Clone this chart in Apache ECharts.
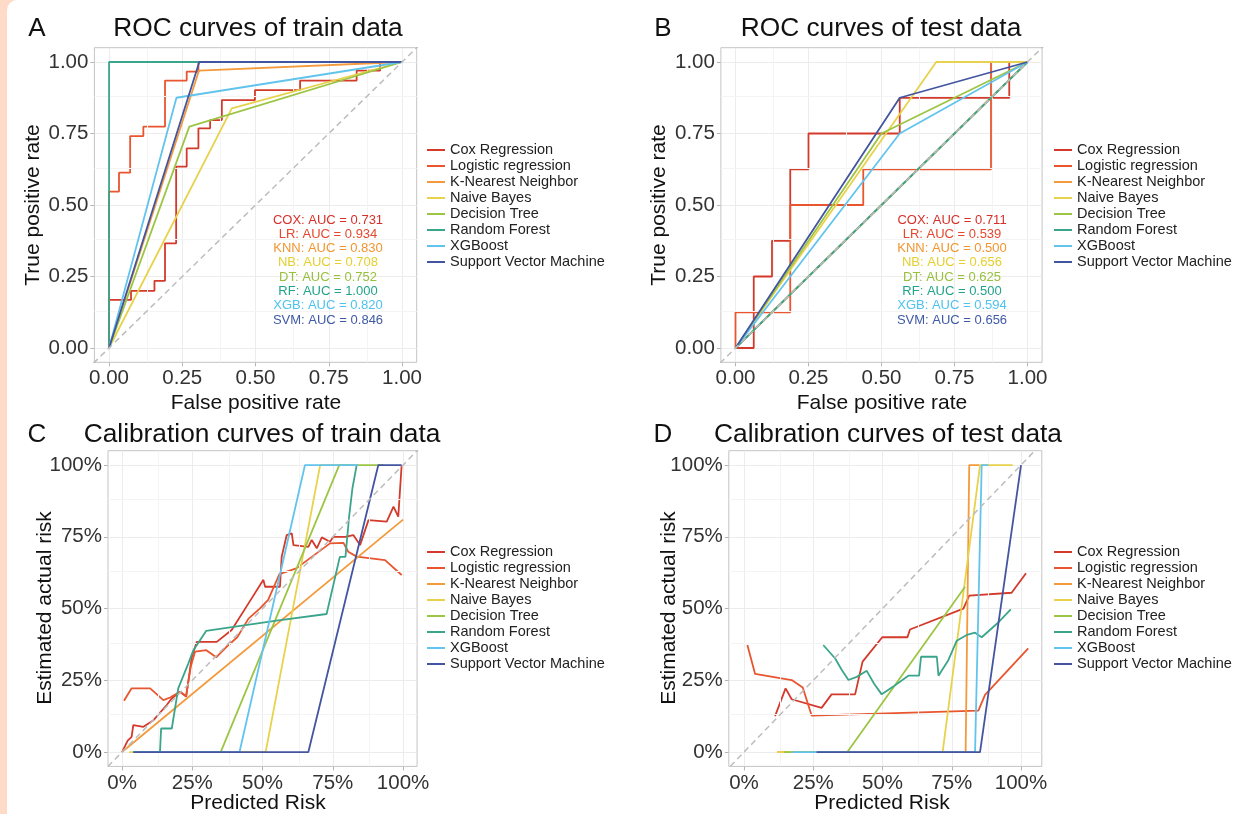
<!DOCTYPE html>
<html><head><meta charset="utf-8">
<script src="https://cdn.jsdelivr.net/npm/echarts@6/dist/echarts.min.js"></script>
<style>
html,body{margin:0;padding:0;background:#fff;}
#strip{position:absolute;left:0;top:0;width:20px;height:814px;background:#FDDBC8;}
#corner{position:absolute;left:7px;top:0;width:30px;height:814px;background:#fff;border-top-left-radius:10px;}
#main{position:absolute;left:0;top:0;width:1235px;height:814px;}
</style></head>
<body><div id="strip"></div><div id="corner"></div><div id="main"></div>
<script>
const FONT = '"Liberation Sans", Arial, Helvetica, sans-serif';
const modelNames = ['Cox Regression','Logistic regression','K-Nearest Neighbor','Naive Bayes','Decision Tree','Random Forest','XGBoost','Support Vector Machine'];
const modelColors = ['#D33A2B','#E8552E','#F29A3C','#E8D24C','#9DC544','#3AA58A','#62C4EC','#4355A0'];
const majorTicks = [0,0.25,0.5,0.75,1];
const rocTickLabels = ['0.00','0.25','0.50','0.75','1.00'];
const calTickLabels = ['0%','25%','50%','75%','100%'];
const minorTicks = [0.125,0.375,0.625,0.875];
const diagonal = [[-0.2,-0.2],[1.2,1.2]];

// Panel A: ROC train
const rocTrainCox = [[0,0],[0,0.168],[0.075,0.168],[0.075,0.2],[0.155,0.2],[0.155,0.235],[0.191,0.235],[0.191,0.366],[0.229,0.366],[0.229,0.634],[0.265,0.634],[0.265,0.698],[0.305,0.698],[0.305,0.768],[0.345,0.768],[0.345,0.797],[0.385,0.797],[0.385,0.867],[0.498,0.867],[0.498,0.902],[0.652,0.902],[0.652,0.935],[0.845,0.935],[0.845,0.97],[0.925,0.97],[0.925,1],[1,1]];
const rocTrainLr = [[0,0],[0,0.547],[0.034,0.547],[0.034,0.613],[0.072,0.613],[0.072,0.741],[0.117,0.741],[0.117,0.774],[0.191,0.774],[0.191,0.935],[0.265,0.935],[0.265,0.966],[0.305,0.966],[0.305,1],[1,1]];
const rocTrainKnn = [[0,0],[0.307,0.97],[1,1]];
const rocTrainNb = [[0,0],[0.419,0.838],[1,1]];
const rocTrainDt = [[0,0],[0.274,0.774],[1,1]];
const rocTrainRf = [[0,0],[0,1],[1,1]];
const rocTrainXgb = [[0,0],[0.23,0.875],[1,1]];
const rocTrainSvm = [[0,0],[0.308,1],[1,1]];

// Panel B: ROC test
const rocTestCox = [[0,0],[0.0625,0],[0.0625,0.25],[0.125,0.25],[0.125,0.375],[0.1875,0.375],[0.1875,0.625],[0.25,0.625],[0.25,0.75],[0.5625,0.75],[0.5625,0.875],[0.9375,0.875],[0.9375,1],[1,1]];
const rocTestLr = [[0,0],[0,0.125],[0.1875,0.125],[0.1875,0.5],[0.4375,0.5],[0.4375,0.625],[0.875,0.625],[0.875,1],[1,1]];
const rocTestKnn = [[0,0],[1,1]];
const rocTestNb = [[0,0],[0.6875,1],[1,1]];
const rocTestDt = [[0,0],[0.5,0.75],[1,1]];
const rocTestRf = [[0,0],[1,1]];
const rocTestXgb = [[0,0],[0.5625,0.75],[1,1]];
const rocTestSvm = [[0,0],[0.5625,0.875],[1,1]];

// Panel C: calibration train
const calTrainCox = [[0,0],[0.02,0.04],[0.034,0.053],[0.04,0.094],[0.076,0.088],[0.112,0.111],[0.159,0.164],[0.175,0.185],[0.206,0.21],[0.228,0.193],[0.248,0.33],[0.266,0.384],[0.337,0.384],[0.39,0.425],[0.45,0.518],[0.503,0.6],[0.509,0.576],[0.562,0.576],[0.568,0.68],[0.586,0.756],[0.604,0.762],[0.61,0.721],[0.663,0.715],[0.675,0.739],[0.693,0.71],[0.711,0.748],[0.74,0.733],[0.752,0.75],[0.794,0.75],[0.823,0.756],[0.847,0.721],[0.877,0.808],[0.942,0.803],[0.966,0.855],[0.983,0.82],[0.995,1.0]];
const calTrainLr = [[0.007,0.179],[0.034,0.222],[0.1,0.222],[0.147,0.181],[0.171,0.19],[0.206,0.21],[0.228,0.195],[0.245,0.3],[0.26,0.35],[0.3,0.355],[0.335,0.33],[0.37,0.365],[0.41,0.4],[0.45,0.465],[0.49,0.5],[0.52,0.53],[0.56,0.62],[0.62,0.64],[0.74,0.727],[0.788,0.729],[0.805,0.698],[0.835,0.681],[0.936,0.669],[0.995,0.617]];
const calTrainKnn = [[0,0],[1,0.81]];
const calTrainNb = [[0.026,0],[0.511,0],[0.705,1],[0.8,1]];
const calTrainDt = [[0.04,0],[0.351,0],[0.773,1],[0.93,1]];
const calTrainRf = [[0.04,0],[0.135,0],[0.139,0.082],[0.177,0.082],[0.2,0.222],[0.236,0.309],[0.254,0.355],[0.299,0.422],[0.55,0.458],[0.728,0.481],[0.775,0.68],[0.795,0.68],[0.808,0.82],[0.82,0.92],[0.835,1]];
const calTrainXgb = [[0.04,0],[0.418,0],[0.651,1],[0.841,1]];
const calTrainSvm = [[0.04,0],[0.663,0],[0.912,1],[0.995,1]];

// Panel D: calibration test
const calTestCox = [[0.112,0.125],[0.15,0.222],[0.172,0.184],[0.28,0.154],[0.316,0.201],[0.401,0.201],[0.428,0.315],[0.499,0.4],[0.59,0.4],[0.599,0.427],[0.792,0.5],[0.813,0.545],[0.966,0.555],[1.018,0.623]];
const calTestLr = [[0.012,0.373],[0.04,0.272],[0.172,0.251],[0.212,0.225],[0.244,0.127],[0.846,0.144],[0.87,0.199],[1.026,0.361]];
const calTestKnn = [[0.12,0],[0.8,0],[0.813,1],[0.85,1]];
const calTestNb = [[0.12,0],[0.717,0],[0.852,1],[0.97,1]];
const calTestDt = [[0.145,0],[0.373,0],[0.798,0.576]];
const calTestRf = [[0.286,0.373],[0.329,0.326],[0.353,0.286],[0.377,0.251],[0.407,0.262],[0.443,0.283],[0.469,0.239],[0.497,0.201],[0.539,0.228],[0.593,0.266],[0.632,0.266],[0.639,0.332],[0.696,0.332],[0.702,0.266],[0.738,0.321],[0.768,0.388],[0.804,0.408],[0.834,0.416],[0.858,0.4],[0.912,0.446],[0.963,0.497]];
const calTestXgb = [[0.172,0],[0.834,0],[0.858,1],[0.882,1]];
const calTestSvm = [[0.262,0],[0.852,0],[1.0,1.0]];

const aucTrainLabels = ['COX: AUC = 0.731','LR: AUC = 0.934','KNN: AUC = 0.830','NB: AUC = 0.708','DT: AUC = 0.752','RF: AUC = 1.000','XGB: AUC = 0.820','SVM: AUC = 0.846'];
const aucTestLabels = ['COX: AUC = 0.711','LR: AUC = 0.539','KNN: AUC = 0.500','NB: AUC = 0.656','DT: AUC = 0.625','RF: AUC = 0.500','XGB: AUC = 0.594','SVM: AUC = 0.656'];
const aucColors = ['#D7302A','#E5482E','#F39530','#E6CF2E','#97C03C','#22A48A','#4EC2F0','#3F5AA6'];

const panelTitles = ['ROC curves of train data','ROC curves of test data','Calibration curves of train data','Calibration curves of test data'];
const panelLetters = ['A','B','C','D'];
const xNames = ['False positive rate','False positive rate','Predicted Risk','Predicted Risk'];
const yNames = ['True positive rate','True positive rate','Estimated actual risk','Estimated actual risk'];

const panelData = [
  [rocTrainCox,rocTrainLr,rocTrainKnn,rocTrainNb,rocTrainDt,rocTrainRf,rocTrainXgb,rocTrainSvm],
  [rocTestCox,rocTestLr,rocTestKnn,rocTestNb,rocTestDt,rocTestRf,rocTestXgb,rocTestSvm],
  [calTrainCox,calTrainLr,calTrainKnn,calTrainNb,calTrainDt,calTrainRf,calTrainXgb,calTrainSvm],
  [calTestCox,calTestLr,calTestKnn,calTestNb,calTestDt,calTestRf,calTestXgb,calTestSvm]
];

// layout
const grids = [
  {left:94.4, top:47.7, width:322.3, height:314.6},
  {left:720.9, top:47.7, width:321.2, height:314.6},
  {left:108, top:450.7, width:309.1, height:315.7},
  {left:728.8, top:450.7, width:313, height:315.7}
];
const xRanges = [[-0.05,1.05],[-0.05,1.05],[-0.05,1.05],[-0.055,1.075]];
const yRanges = [[-0.05,1.05],[-0.05,1.05],[-0.05,1.05],[-0.05,1.05]];

function fmt(labels){ return v => { const i = majorTicks.findIndex(t => Math.abs(t - v) < 1e-9); return i >= 0 ? labels[i] : ''; }; }

const xAxis = [], yAxis = [], series = [];
for (let p = 0; p < 4; p++) {
  const labels = p < 2 ? rocTickLabels : calTickLabels;
  const common = {
    gridIndex: p, type: 'value',
    axisLine: {show: false, onZero: false},
    axisTick: {show: true, customValues: majorTicks, length: 4, lineStyle: {color: '#b5b5b5', width: 1}},
    axisLabel: {customValues: majorTicks, formatter: fmt(labels), fontSize: 20.5, color: '#333', fontFamily: FONT},
    splitLine: {show: true, lineStyle: {color: '#ececec', width: 1}}
  };
  xAxis.push(Object.assign({}, common, {min: xRanges[p][0], max: xRanges[p][1], axisLabel: Object.assign({}, common.axisLabel, {margin: 6})}));
  yAxis.push(Object.assign({}, common, {min: yRanges[p][0], max: yRanges[p][1], axisLabel: Object.assign({}, common.axisLabel, {margin: 6})}));
  // minor grid
  series.push({
    type: 'line', xAxisIndex: p, yAxisIndex: p, data: [], silent: true, z: 1,
    markLine: {silent: true, symbol: ['none','none'], label: {show: false}, animation: false,
      lineStyle: {color: '#f4f4f4', width: 1, type: 'solid'},
      data: minorTicks.map(v => ({xAxis: v})).concat(minorTicks.map(v => ({yAxis: v})))}
  });
  panelData[p].forEach((d, i) => {
    series.push({
      name: modelNames[i], type: 'line', xAxisIndex: p, yAxisIndex: p, data: d,
      showSymbol: false, symbol: 'none', silent: true, animation: false,
      lineStyle: {color: modelColors[i], width: 1.8}, itemStyle: {color: modelColors[i]}, z: 3 + i
    });
  });
  series.push({
    type: 'line', xAxisIndex: p, yAxisIndex: p, data: diagonal, clip: true,
    showSymbol: false, symbol: 'none', silent: true, animation: false,
    lineStyle: {color: '#bdbdbd', width: 1.5, type: [6, 4]}, z: 20
  });
}

const legendPos = [[427,142],[1054,142],[427,544],[1054,544]];
const legend = legendPos.map(([l, t]) => ({
  left: l, top: t, orient: 'vertical', icon: 'rect', itemWidth: 18, itemHeight: 2, itemGap: 0, padding: 0,
  selectedMode: false, data: modelNames,
  textStyle: {fontSize: 14.5, lineHeight: 16, color: '#222', fontFamily: FONT}
}));

const graphic = [];
const letterPos = [[37,29],[663,29],[37,435],[663,435]];
const titlePos = [[258,29],[881,29],[262,435],[888,435]];
const xNamePos = [[256,403],[882,403],[258,803],[882,803]];
const yNamePos = [[33,205],[659,205],[45,608],[669,608]];
for (let p = 0; p < 4; p++) {
  graphic.push({type: 'text', z: 100, x: letterPos[p][0], y: letterPos[p][1], style: {text: panelLetters[p], font: '26px ' + FONT, fill: '#111', textAlign: 'center', textVerticalAlign: 'middle'}});
  graphic.push({type: 'text', z: 100, x: titlePos[p][0], y: titlePos[p][1], style: {text: panelTitles[p], font: '26.3px ' + FONT, fill: '#111', textAlign: 'center', textVerticalAlign: 'middle'}});
  graphic.push({type: 'text', z: 100, x: xNamePos[p][0], y: xNamePos[p][1], style: {text: xNames[p], font: '21px ' + FONT, fill: '#111', textAlign: 'center', textVerticalAlign: 'middle'}});
  graphic.push({type: 'text', z: 100, x: yNamePos[p][0], y: yNamePos[p][1], rotation: Math.PI / 2, style: {text: yNames[p], font: '21px ' + FONT, fill: '#111', textAlign: 'center', textVerticalAlign: 'middle'}});
}
const aucX = [328, 952];
[aucTrainLabels, aucTestLabels].forEach((arr, k) => {
  arr.forEach((t, i) => {
    graphic.push({type: 'text', z: 100, x: aucX[k], y: 220 + i * 14.3, style: {text: t, font: '13px ' + FONT, fill: aucColors[i], textAlign: 'center', textVerticalAlign: 'middle'}});
  });
});

const chart = echarts.init(document.getElementById('main'), null, {renderer: 'canvas'});
chart.setOption({
  backgroundColor: 'transparent',
  animation: false,
  grid: grids.map(g => Object.assign({show: true, borderColor: '#c4c4c4', borderWidth: 1, backgroundColor: 'transparent', containLabel: false}, g)),
  xAxis, yAxis, series, legend, graphic
});
</script></body></html>
